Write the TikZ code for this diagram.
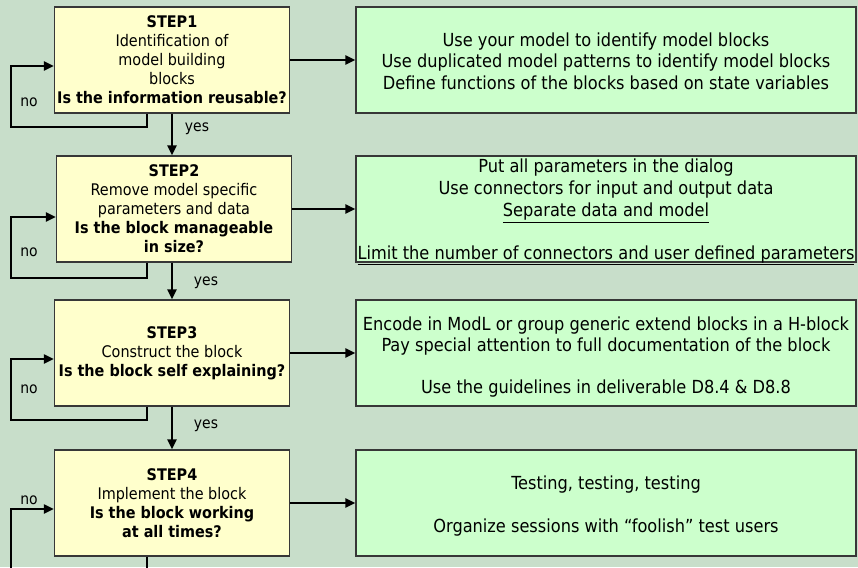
\documentclass[tikz,border=0pt]{standalone}
\usepackage{fontspec}
\setmainfont{DejaVu Sans Condensed}
\usetikzlibrary{arrows.meta}
\definecolor{bg}{RGB}{200,222,202}
\definecolor{stepfill}{RGB}{255,255,204}
\definecolor{notefill}{RGB}{204,255,204}
\definecolor{edge}{RGB}{55,55,55}
\begin{document}
\begin{tikzpicture}[x=1pt,y=-1pt,
  stepbox/.style={draw=edge, line width=1.2pt, fill=stepfill, minimum width=235pt, minimum height=106pt, inner sep=0pt, align=center, font=\fontsize{16}{19}\selectfont},
  notebox/.style={draw=edge, line width=1.2pt, fill=notefill, minimum width=500pt, minimum height=106pt, inner sep=0pt},
  notetext/.style={align=center, font=\fontsize{18}{21.5}\selectfont, inner sep=0pt},
  flow/.style={line width=2.5pt, -{Triangle[length=10pt,width=9pt]}},
  loopline/.style={line width=2pt, -{Triangle[length=10pt,width=9pt]}},
  lbl/.style={font=\fontsize{15.5}{17}\selectfont, inner sep=0pt}]
\fill[bg] (0,0) rectangle (858,567);
\useasboundingbox (0,0) rectangle (858,567);
\clip (0,0) rectangle (858,567);

% step boxes
\node[stepbox] (s1) at (172,60) {\textbf{STEP1}\\Identification of\\model building\\blocks\\\textbf{Is the information reusable?}};
\node[stepbox] (s2) at (174,209) {\textbf{STEP2}\\Remove model specific\\parameters and data\\\textbf{Is the block manageable}\\\textbf{in size?}};
\node[stepbox] (s3) at (172,353) {\textbf{STEP3}\\Construct the block\\\textbf{Is the block self explaining?}};
\node[stepbox] (s4) at (172,503) {\textbf{STEP4}\\Implement the block\\\textbf{Is the block working}\\\textbf{at all times?}};

% note boxes
\node[notebox] (g1) at (606,60) {};
\node[notebox] (g2) at (606,209) {};
\node[notebox] (g3) at (606,353) {};
\node[notebox] (g4) at (606,503) {};

\node[notetext] (t1) at (606,61) {Use your model to identify model blocks\\Use duplicated model patterns to identify model blocks\\Define functions of the blocks based on state variables};
\node[notetext] (t2) at (606,212) {Put all parameters in the dialog\\Use connectors for input and output data\\[1pt]\underline{Separate data and model}\\[21pt]\underline{Limit the number of connectors and user defined parameters}};
\node[notetext] (t3) at (606,357) {Encode in ModL or group generic extend blocks in a H-block\\Pay special attention to full documentation of the block\\[20pt]Use the guidelines in deliverable D8.4 \& D8.8};
\node[notetext] (t4) at (606,506) {Testing, testing, testing\\[21.5pt]Organize sessions with “foolish” test users};

% flow arrows
\draw[flow] (s1.east) -- (g1.west);
\draw[flow] (s2.east) -- (g2.west);
\draw[flow] (s3.east) -- (g3.west);
\draw[flow] (s4.east) -- (g4.west);

\draw[flow] (s1.south -| s1.center) -- (s1.center |- s2.north);
\draw[flow] (s2.south -| s1.center) -- (s1.center |- s3.north);
\draw[flow] (s3.south) -- (s4.north);

% loops
\draw[loopline] ([xshift=-25pt]s1.south) -- ++(0,13) -| (11,66) -- ([yshift=-6pt]s1.west);
\draw[loopline] ([xshift=-27pt]s2.south) -- ++(0,15) -| (11,217) -- ([yshift=-8pt]s2.west);
\draw[loopline] ([xshift=-25pt]s3.south) -- ++(0,13) -| (11,359) -- ([yshift=-6pt]s3.west);
\draw[loopline] ([xshift=-25pt]s4.south) -- ++(0,30) -| (11,509) -- ([yshift=-6pt]s4.west);

% labels
\node[lbl] (n1) at (29,102) {no};
\node[lbl] (n2) at (29,252) {no};
\node[lbl] (n3) at (29,389) {no};
\node[lbl] (n4) at (29,500) {no};
\node[lbl] (y1) at (197,129) {yes};
\node[lbl] (y2) at (206,283) {yes};
\node[lbl] (y3) at (206,426) {yes};
\end{tikzpicture}
\end{document}
